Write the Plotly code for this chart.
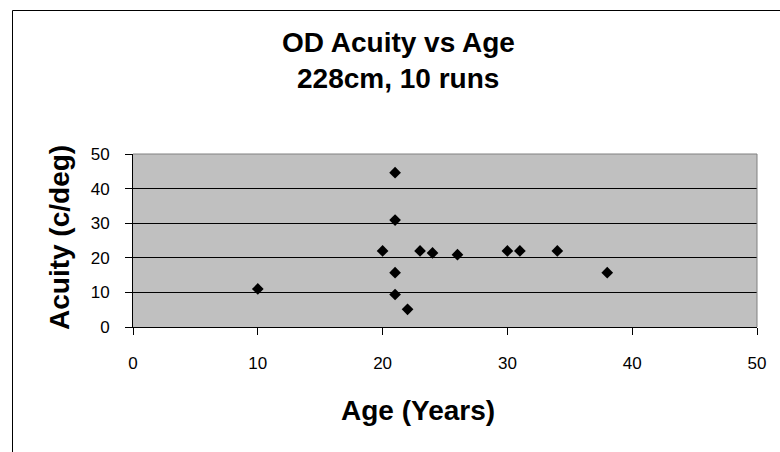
import plotly.graph_objects as go

# Subject age (years) and measured OD acuity (cycles/degree)
age = [10, 20, 21, 21, 21, 21, 22, 23, 24, 26, 30, 31, 34, 38]
acuity = [11, 22, 44.6, 30.9, 15.7, 9.4, 5.1, 22, 21.4, 20.9, 22, 22, 22, 15.7]

x_ticks = [0, 10, 20, 30, 40, 50]
y_ticks = [0, 10, 20, 30, 40, 50]

W, H = 780, 452
ML, MR, MT, MB = 133, 23, 154, 125
PW, PH = W - ML - MR, H - MT - MB

FONT = "Liberation Sans, Arial, sans-serif"


def px_x(px):
    return (px - ML) / PW


def px_y(py):
    return (H - MB - py) / PH


fig = go.Figure()
fig.add_trace(go.Scatter(
    x=age, y=acuity, mode="markers",
    marker=dict(symbol="diamond", size=9, color="black",
                line=dict(width=0)),
    showlegend=False, hoverinfo="x+y",
))

axis_common = dict(
    showline=True, linecolor="black", linewidth=1,
    ticks="outside", ticklen=7, tickwidth=1, tickcolor="black",
    tickfont=dict(family=FONT, size=17, color="black"),
    zeroline=False, mirror=False,
)

fig.update_xaxes(range=[0, 50], tickvals=x_ticks, showgrid=False,
                 ticklabelstandoff=14, **axis_common)
fig.update_yaxes(range=[0, 50], tickvals=y_ticks, showgrid=True,
                 gridcolor="black", gridwidth=1,
                 ticklabelstandoff=12, **axis_common)

shapes = [
    # grey top/right border of the plot area
    dict(type="line", xref="paper", yref="paper", x0=0, x1=1, y0=1, y1=1,
         line=dict(color="#808080", width=1)),
    dict(type="line", xref="paper", yref="paper", x0=1, x1=1, y0=0, y1=1,
         line=dict(color="#808080", width=1)),
    # outer chart frame
    dict(type="rect", xref="paper", yref="paper",
         x0=px_x(12.5), x1=px_x(820), y0=px_y(10.5), y1=px_y(480),
         line=dict(color="black", width=1), fillcolor="rgba(0,0,0,0)",
         layer="below"),
]

title_font = dict(family=FONT, size=28, color="black")
annotations = [
    dict(text="<b>OD Acuity vs Age</b>", xref="paper", yref="paper",
         x=px_x(398), y=px_y(42), xanchor="center", yanchor="middle",
         showarrow=False, font=title_font),
    dict(text="<b>228cm, 10 runs</b>", xref="paper", yref="paper",
         x=px_x(398), y=px_y(78), xanchor="center", yanchor="middle",
         showarrow=False, font=title_font),
    dict(text="<b>Age (Years)</b>", xref="paper", yref="paper",
         x=px_x(418), y=px_y(410), xanchor="center", yanchor="middle",
         showarrow=False, font=title_font),
    dict(text="<b>Acuity (c/deg)</b>", xref="paper", yref="paper",
         x=px_x(59), y=px_y(238), xanchor="center", yanchor="middle",
         textangle=-90, showarrow=False, font=title_font),
]

fig.update_layout(
    width=W, height=H,
    margin=dict(l=ML, r=MR, t=MT, b=MB, pad=0),
    paper_bgcolor="white", plot_bgcolor="#C0C0C0",
    shapes=shapes, annotations=annotations,
    font=dict(family=FONT, color="black"),
)

fig.write_html("out.html")
